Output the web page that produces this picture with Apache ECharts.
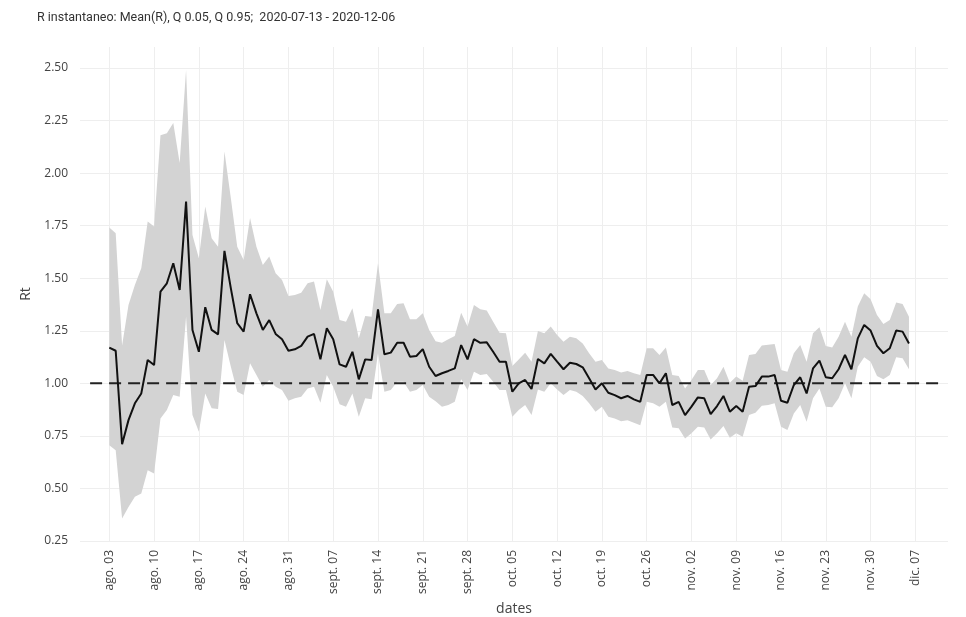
<!DOCTYPE html>
<html>
<head>
<meta charset="utf-8">
<script src="https://cdn.jsdelivr.net/npm/echarts@6/dist/echarts.min.js"></script>
<style>html,body{margin:0;padding:0;background:#fff;}#chart{width:966px;height:617px;}</style>
</head>
<body>
<div id="chart"></div>
<script>
// ---- data ----
const startDate = '2020-08-03';
const meanR = [1.17,1.155,0.71,0.825,0.905,0.952,1.111,1.087,1.436,1.476,1.571,1.444,1.865,1.254,1.15,1.362,1.254,1.233,1.63,1.452,1.286,1.246,1.424,1.333,1.254,1.301,
1.235,1.21,1.155,1.162,1.178,1.222,1.235,1.114,1.262,1.21,1.09,1.079,1.15,1.019,1.114,1.111,1.352,1.138,1.146,1.193,1.193,1.127,1.13,1.163,1.079,1.035,
1.048,1.059,1.071,1.182,1.114,1.21,1.193,1.195,1.15,1.103,1.103,0.96,1.0,1.016,0.973,1.116,1.095,1.14,1.103,1.067,1.098,1.092,1.076,1.024,0.971,
1.0,0.955,0.944,0.929,0.94,0.924,0.912,1.04,1.04,1.0,1.048,0.897,0.912,0.849,0.889,0.933,0.929,0.854,0.892,0.94,0.865,0.892,0.865,0.984,0.987,
1.032,1.032,1.04,0.917,0.908,0.992,1.029,0.952,1.071,1.108,1.029,1.024,1.067,1.135,1.067,1.214,1.278,1.251,1.178,1.143,1.167,1.251,1.246,1.19];
const q95 = [1.741,1.714,1.18,1.373,1.468,1.548,1.77,1.746,2.18,2.19,2.238,2.048,2.49,1.706,1.595,1.841,1.69,1.65,2.103,1.881,1.65,1.587,1.786,1.65,1.563,1.603,
1.524,1.492,1.416,1.42,1.431,1.476,1.484,1.349,1.495,1.436,1.301,1.293,1.357,1.214,1.32,1.317,1.571,1.333,1.333,1.378,1.381,1.305,1.305,1.333,1.254,1.2,
1.193,1.21,1.225,1.336,1.27,1.373,1.352,1.346,1.293,1.241,1.238,1.082,1.114,1.146,1.103,1.249,1.238,1.27,1.23,1.198,1.222,1.214,1.19,1.143,1.103,
1.111,1.071,1.063,1.051,1.059,1.048,1.04,1.167,1.167,1.135,1.171,1.04,1.035,0.976,1.016,1.063,1.063,0.992,1.024,1.079,1.003,1.032,1.012,1.135,1.14,
1.18,1.183,1.187,1.063,1.055,1.143,1.182,1.103,1.238,1.267,1.178,1.171,1.222,1.293,1.222,1.365,1.429,1.4,1.325,1.282,1.301,1.384,1.378,1.317];
const q05 = [0.706,0.682,0.357,0.412,0.46,0.476,0.587,0.571,0.833,0.873,0.944,0.936,1.317,0.849,0.77,0.952,0.881,0.878,1.206,1.079,0.96,0.944,1.095,1.04,0.984,1.016,
0.984,0.968,0.917,0.929,0.936,0.976,0.984,0.908,1.04,0.984,0.901,0.889,0.952,0.841,0.929,0.924,1.143,0.96,0.968,1.008,1.008,0.96,0.968,0.992,0.936,0.915,
0.889,0.897,0.912,1.019,0.968,1.055,1.04,1.044,1.008,0.968,0.968,0.841,0.873,0.897,0.849,0.971,0.96,1.0,0.971,0.944,0.968,0.96,0.94,0.905,0.865,
0.889,0.841,0.833,0.82,0.825,0.812,0.801,0.912,0.905,0.889,0.912,0.79,0.786,0.738,0.762,0.793,0.79,0.733,0.762,0.797,0.741,0.762,0.746,0.849,0.86,
0.893,0.897,0.905,0.793,0.778,0.857,0.897,0.817,0.929,0.976,0.889,0.886,0.929,1.0,0.929,1.079,1.124,1.103,1.035,1.019,1.04,1.124,1.119,1.067];
const refValue = 1.0;
const refDates = ['2020-07-31', '2020-12-11'];
const xTickDates = ['2020-08-03','2020-08-10','2020-08-17','2020-08-24','2020-08-31','2020-09-07','2020-09-14','2020-09-21','2020-09-28','2020-10-05','2020-10-12','2020-10-19','2020-10-26','2020-11-02','2020-11-09','2020-11-16','2020-11-23','2020-11-30','2020-12-07'];
const xTickLabels = ['ago. 03','ago. 10','ago. 17','ago. 24','ago. 31','sept. 07','sept. 14','sept. 21','sept. 28','oct. 05','oct. 12','oct. 19','oct. 26','nov. 02','nov. 09','nov. 16','nov. 23','nov. 30','dic. 07'];
const yTicks = [0.25,0.5,0.75,1.0,1.25,1.5,1.75,2.0,2.25,2.5];
const titleText = 'R instantaneo: Mean(R), Q 0.05, Q 0.95;  2020-07-13 - 2020-12-06';

// ---- build (x = days since startDate) ----
const DAY = 86400000;
const t = s => { const p = s.split('-'); return Date.UTC(+p[0], +p[1]-1, +p[2]); };
const t0 = t(startDate);
const dayOf = s => (t(s) - t0) / DAY;
const tickDays = xTickDates.map(dayOf);
const bandRows = q05.map((v, i) => [i, v, q95[i]]);
const meanData = meanR.map((v, i) => [i, v]);
const refData = refDates.map(d => [dayOf(d), refValue]);

const font = '"Open Sans", "Noto Sans", sans-serif';
const gridColor = '#eeeeee';
const chart = echarts.init(document.getElementById('chart'), null, {renderer: 'canvas'});
chart.setOption({
  animation: false,
  backgroundColor: '#fff',
  title: {
    text: titleText, left: 32, top: 6,
    textStyle: {fontFamily: 'Roboto, "Open Sans", sans-serif', fontSize: 12.5, fontWeight: 'normal', color: '#333'}
  },
  grid: {left: 80, right: 18, top: 47, bottom: 76, outerBoundsMode: 'none', containLabel: false},
  xAxis: {
    type: 'value',
    min: -4.58, max: 131.1,
    name: 'dates', nameLocation: 'middle', nameGap: 58,
    nameTextStyle: {fontFamily: font, fontSize: 14, color: '#444'},
    axisLine: {show: false}, axisTick: {show: false}, splitLine: {show: false},
    axisLabel: {
      customValues: tickDays, rotate: 90, margin: 9,
      fontFamily: font, fontSize: 12, color: '#444',
      formatter: v => { const i = tickDays.findIndex(x => Math.abs(x - v) < 0.5); return i >= 0 ? xTickLabels[i] : ''; }
    }
  },
  yAxis: {
    type: 'value', min: 0.25, max: 2.60,
    name: 'Rt', nameLocation: 'middle', nameGap: 46, nameRotate: 90,
    nameTextStyle: {fontFamily: font, fontSize: 14, color: '#444'},
    axisLine: {show: false}, axisTick: {show: false}, splitLine: {show: false},
    axisLabel: {customValues: yTicks, fontFamily: font, fontSize: 12, color: '#444', margin: 12, formatter: v => v.toFixed(2)}
  },
  series: [
    {
      type: 'line', name: 'grid', data: [], symbol: 'none', z: 0, silent: true,
      markLine: {
        z: 0, silent: true, symbol: 'none', label: {show: false}, animation: false,
        lineStyle: {color: gridColor, width: 1, type: 'solid'},
        data: tickDays.map(x => ({xAxis: x})).concat(yTicks.map(y => ({yAxis: y})))
      }
    },
    {
      type: 'custom', name: 'Q 0.05 - Q 0.95', data: bandRows, z: 2, silent: true,
      encode: {x: 0, y: [1, 2]},
      renderItem: (params, api) => {
        if (params.dataIndex !== 0) return null;
        const pts = [];
        for (let i = 0; i < bandRows.length; i++) pts.push(api.coord([bandRows[i][0], bandRows[i][2]]));
        for (let i = bandRows.length - 1; i >= 0; i--) pts.push(api.coord([bandRows[i][0], bandRows[i][1]]));
        return {type: 'polygon', shape: {points: pts}, style: {fill: '#d3d3d3', stroke: null}};
      }
    },
    {
      type: 'line', name: 'ref', data: refData, symbol: 'none', z: 3,
      lineStyle: {color: '#222', width: 2, type: [12, 7]}, silent: true
    },
    {
      type: 'line', name: 'Mean(R)', data: meanData, symbol: 'none', z: 4,
      lineStyle: {color: '#111', width: 2}
    }
  ]
});
</script>
</body>
</html>
